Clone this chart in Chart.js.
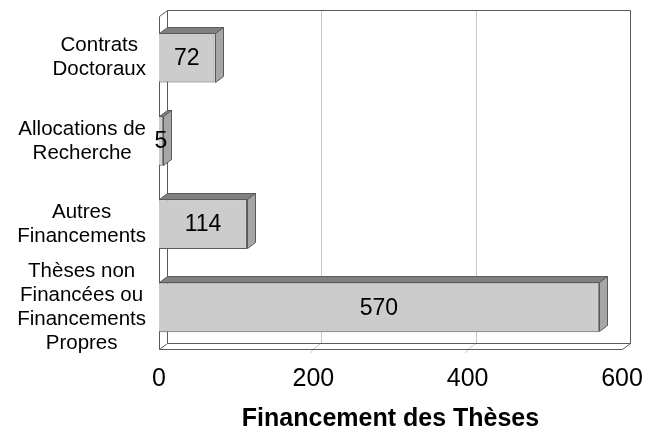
<!DOCTYPE html>
<html>
<head>
<meta charset="utf-8">
<script src="https://cdn.jsdelivr.net/npm/chart.js@4/dist/chart.umd.min.js"></script>
<style>
  html, body { margin: 0; padding: 0; background: #fff; }
  #wrap { width: 653px; height: 433px; }
</style>
</head>
<body>
<div id="wrap"><canvas id="myChart" width="653" height="433"></canvas></div>
<script>
const categories = [
    ['Contrats', 'Doctoraux'],
    ['Allocations de', 'Recherche'],
    ['Autres', 'Financements'],
    ['Thèses non', 'Financées ou', 'Financements', 'Propres']
];
const values = [72, 5, 114, 570];
const xTicks = [0, 200, 400, 600];

const DX = 8;
const DY = 6;
const lineCol = '#5a5a5a';
const FONT = '"Liberation Sans", Arial, sans-serif';

// back wall, side wall, floor and grid
const framePlugin = {
    id: 'frame3d',
    beforeDatasetsDraw(chart) {
        const c = chart.ctx;
        const a = chart.chartArea;
        const xs = chart.scales.x;
        c.save();
        c.lineWidth = 1;

        c.strokeStyle = '#c8c8c8';
        xTicks.forEach(function (t) {
            if (t === 0 || t === 600) return;
            const px = Math.round(xs.getPixelForValue(t)) + 0.5;
            c.beginPath();
            c.moveTo(px + DX, a.top - DY);
            c.lineTo(px + DX, a.bottom - DY);
            c.lineTo(px, a.bottom);
            c.lineTo(px - 3, a.bottom + 4);
            c.stroke();
        });

        c.strokeStyle = lineCol;
        const L = Math.round(a.left) + 0.5;
        const R = Math.round(a.right) + 0.5;
        const T = Math.round(a.top) + 0.5;
        const B = Math.round(a.bottom) + 0.5;
        c.beginPath();
        // left wall
        c.moveTo(L, B);
        c.lineTo(L, T);
        c.lineTo(L + DX, T - DY);
        c.lineTo(L + DX, B - DY);
        c.lineTo(L, B);
        // back wall
        c.moveTo(L + DX, T - DY);
        c.lineTo(R + DX, T - DY);
        c.lineTo(R + DX, B - DY);
        c.lineTo(L + DX, B - DY);
        // floor
        c.moveTo(L, B);
        c.lineTo(R, B);
        c.lineTo(R + DX, B - DY);
        c.stroke();
        c.restore();
    }
};

// top and side faces of the bars, value labels, category labels
const barsPlugin = {
    id: 'bars3d',
    afterDatasetsDraw(chart) {
        const c = chart.ctx;
        const meta = chart.getDatasetMeta(0);
        c.save();
        c.lineWidth = 1;
        c.strokeStyle = lineCol;
        meta.data.forEach(function (bar, i) {
            const p = bar.getProps(['x', 'y', 'base', 'height'], true);
            const x0 = Math.round(p.base) + 0.5;
            const x1 = Math.round(p.x) + 0.5;
            const top = Math.round(p.y - p.height / 2) + 0.5;
            const bot = Math.round(p.y + p.height / 2) - 0.5;

            c.fillStyle = '#808080';
            c.beginPath();
            c.moveTo(x0, top);
            c.lineTo(x0 + DX, top - DY);
            c.lineTo(x1 + DX, top - DY);
            c.lineTo(x1, top);
            c.closePath();
            c.fill();
            c.stroke();

            c.fillStyle = '#a6a6a6';
            c.beginPath();
            c.moveTo(x1, top);
            c.lineTo(x1 + DX, top - DY);
            c.lineTo(x1 + DX, bot - DY);
            c.lineTo(x1, bot);
            c.closePath();
            c.fill();
            c.stroke();

            c.fillStyle = '#000';
            c.font = '23px ' + FONT;
            c.textAlign = 'center';
            c.textBaseline = 'middle';
            c.fillText(String(values[i]), (p.base + p.x) / 2, p.y + 1);
        });

        // category labels: each block centred on itself, blocks right-aligned
        const ys = chart.scales.y;
        c.font = '20.5px ' + FONT;
        c.fillStyle = '#000';
        c.textAlign = 'center';
        c.textBaseline = 'middle';
        const lh = 24;
        categories.forEach(function (lines, i) {
            const cy = ys.getPixelForTick(i);
            let w = 0;
            lines.forEach(function (s) { w = Math.max(w, c.measureText(s).width); });
            const cx = ys.right - 13 - w / 2;
            lines.forEach(function (s, k) {
                c.fillText(s, cx, cy + (k - (lines.length - 1) / 2) * lh);
            });
        });
        c.restore();
    }
};

const ctx = document.getElementById('myChart').getContext('2d');

const myChart = new Chart(ctx, {
    type: 'bar',
    data: {
        labels: categories,
        datasets: [{
            data: values,
            backgroundColor: '#cccccc',
            borderColor: lineCol,
            borderWidth: 1,
            barPercentage: 0.6,
            categoryPercentage: 1
        }]
    },
    plugins: [framePlugin, barsPlugin],
    options: {
        indexAxis: 'y',
        responsive: false,
        animation: false,
        layout: { padding: { top: 16, right: 31, left: 0, bottom: 0 } },
        plugins: {
            legend: { display: false },
            tooltip: { enabled: false }
        },
        scales: {
            x: {
                min: 0,
                max: 600,
                afterBuildTicks(scale) {
                    scale.ticks = xTicks.map(v => ({ value: v }));
                },
                afterFit(scale) {
                    scale.height = 84;
                    scale.paddingLeft = 0;
                    scale.paddingRight = 0;
                },
                grid: { display: false, drawTicks: false },
                border: { display: false },
                ticks: {
                    color: '#000',
                    padding: 15,
                    maxRotation: 0,
                    autoSkip: false,
                    font: { family: FONT, size: 25 }
                },
                title: {
                    display: true,
                    text: 'Financement des Thèses',
                    color: '#000',
                    padding: { top: 0, bottom: -1 },
                    font: { family: FONT, size: 25, weight: 'bold' }
                }
            },
            y: {
                afterFit(scale) {
                    scale.width = 159;
                    scale.paddingTop = 0;
                    scale.paddingBottom = 0;
                },
                grid: { display: false, drawTicks: false },
                border: { display: false },
                ticks: { display: false }
            }
        }
    }
});
</script>
</body>
</html>
